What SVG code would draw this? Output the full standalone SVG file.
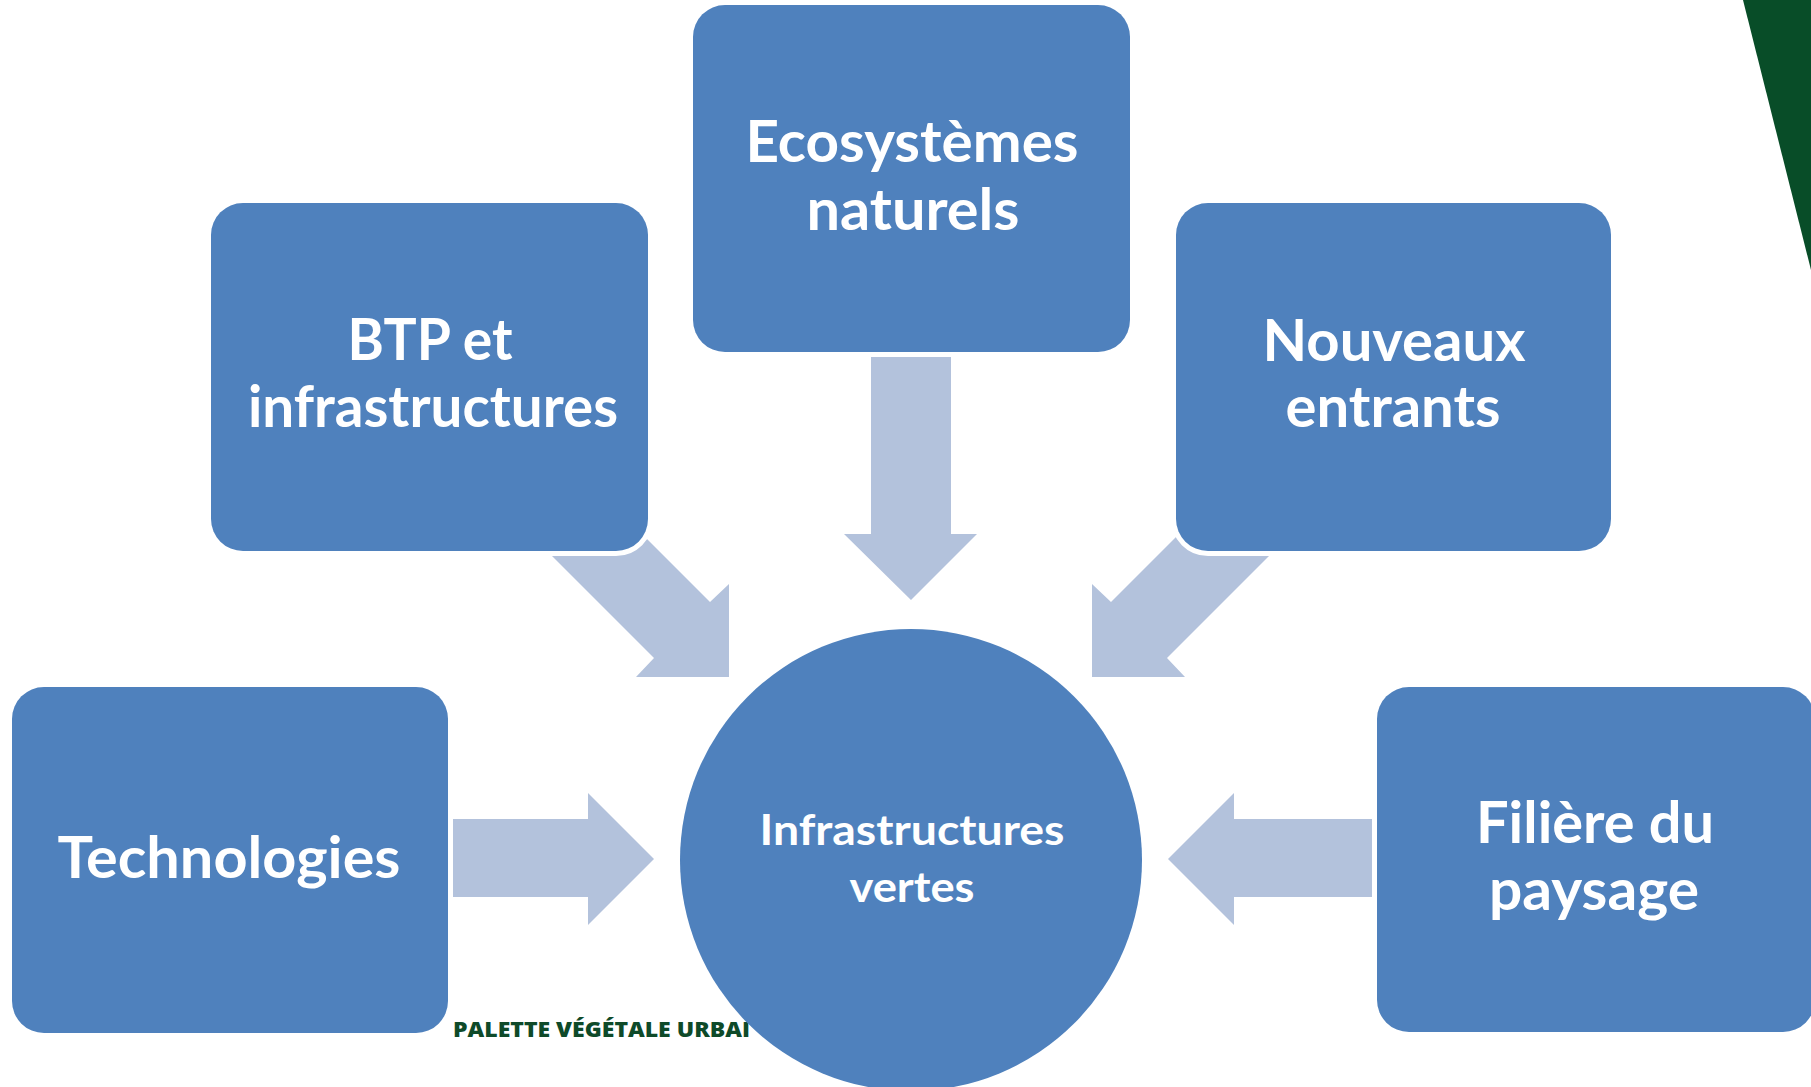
<svg xmlns="http://www.w3.org/2000/svg" width="1811" height="1087" viewBox="0 0 1811 1087">
<style>
.box{fill:#4F81BD;stroke:#FFFFFF;stroke-width:10;paint-order:stroke}
.arrow{fill:#B3C2DC}
.lbl{font-family:Lato,"Open Sans","Liberation Sans",sans-serif;font-weight:bold;fill:#FFFFFF;text-anchor:middle;font-size:57px}
.sm{font-size:42px}
.foot{font-family:"Open Sans","Liberation Sans",sans-serif;font-weight:800;fill:#0E4A29;font-size:21px}
</style>
<rect width="1811" height="1087" fill="#FFFFFF"/>
<polygon points="1743,0 1811,0 1811,270" fill="#084D28"/>
<text class="foot" x="453" y="1037" textLength="297" lengthAdjust="spacingAndGlyphs">PALETTE VÉGÉTALE URBAI</text>
<g id="connectors">
<polygon class="arrow" points="871,330 951,330 951,534 977,534 911,600 844,534 871,534"/>
<polygon class="arrow" points="520,524 654,658 636,677 729,677 729,584 710,602 576,468"/>
<polygon class="arrow" points="1301,524 1167,658 1185,677 1092,677 1092,584 1111,602 1245,468"/>
<polygon class="arrow" points="430,819 588,819 588,793 654,859 588,925 588,897 430,897"/>
<polygon class="arrow" points="1392,819 1234,819 1234,793 1168,859 1234,925 1234,897 1392,897"/>
</g>
<g id="node-ecosystemes">
<rect class="box" x="693" y="5" width="437" height="347" rx="32"/>
<text class="lbl" x="912" y="162" textLength="333" lengthAdjust="spacingAndGlyphs">Ecosystèmes</text>
<text class="lbl" x="913" y="230" textLength="213" lengthAdjust="spacingAndGlyphs">naturels</text>
</g>
<g id="node-btp">
<rect class="box" x="211" y="203" width="437" height="348" rx="32"/>
<text class="lbl" x="430" y="360" textLength="165" lengthAdjust="spacingAndGlyphs">BTP et</text>
<text class="lbl" x="433" y="427" textLength="370" lengthAdjust="spacingAndGlyphs">infrastructures</text>
</g>
<g id="node-nouveaux">
<rect class="box" x="1176" y="203" width="435" height="348" rx="32"/>
<text class="lbl" x="1394" y="361" textLength="263" lengthAdjust="spacingAndGlyphs">Nouveaux</text>
<text class="lbl" x="1393" y="427" textLength="215" lengthAdjust="spacingAndGlyphs">entrants</text>
</g>
<g id="node-technologies">
<rect class="box" x="12" y="687" width="436" height="346" rx="32"/>
<text class="lbl" x="229" y="878" textLength="343" lengthAdjust="spacingAndGlyphs">Technologies</text>
</g>
<g id="node-filiere">
<rect class="box" x="1377" y="687" width="438" height="345" rx="32"/>
<text class="lbl" x="1595" y="843" textLength="238" lengthAdjust="spacingAndGlyphs">Filière du</text>
<text class="lbl" x="1594" y="910" textLength="210" lengthAdjust="spacingAndGlyphs">paysage</text>
</g>
<g id="node-infrastructures-vertes">
<circle cx="911" cy="860" r="231" fill="#4F81BD"/>
<text class="lbl sm" x="912" y="845" textLength="305" lengthAdjust="spacingAndGlyphs">Infrastructures</text>
<text class="lbl sm" x="912" y="902" textLength="125" lengthAdjust="spacingAndGlyphs">vertes</text>
</g>
</svg>
